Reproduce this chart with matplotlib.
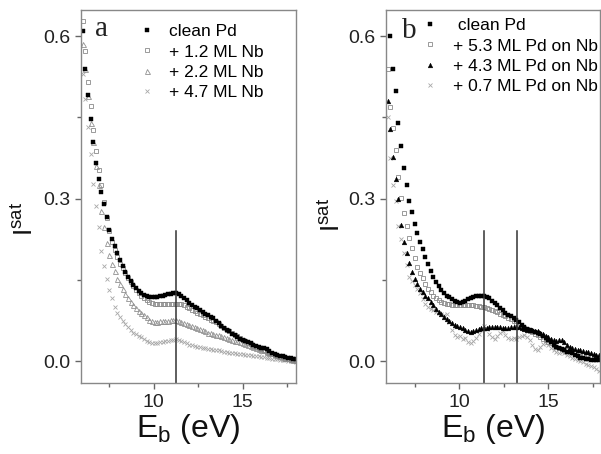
import numpy as np
import matplotlib
matplotlib.use("Agg")
import matplotlib.pyplot as plt

plt.rcParams['font.family'] = ['Liberation Sans', 'DejaVu Sans']
plt.rcParams['mathtext.fontset'] = 'custom'
plt.rcParams['mathtext.rm'] = 'Liberation Sans'

# Binding energy grid (eV)
E = [6.0, 6.15, 6.3, 6.45, 6.6, 6.75, 6.9, 7.05, 7.2, 7.35, 7.5, 7.65, 7.8, 7.95,
     8.1, 8.25, 8.4, 8.55, 8.7, 8.85, 9.0, 9.15, 9.3, 9.45, 9.6, 9.75, 9.9, 10.05,
     10.2, 10.35, 10.5, 10.65, 10.8, 10.95, 11.1, 11.25, 11.4, 11.55, 11.7, 11.85,
     12.0, 12.15, 12.3, 12.45, 12.6, 12.75, 12.9, 13.05, 13.2, 13.35, 13.5, 13.65,
     13.8, 13.95, 14.1, 14.25, 14.4, 14.55, 14.7, 14.85, 15.0, 15.15, 15.3, 15.45,
     15.6, 15.75, 15.9, 16.05, 16.2, 16.35, 16.5, 16.65, 16.8, 16.95, 17.1, 17.25,
     17.4, 17.55, 17.7, 17.85, 18.0]

# Panel a
a_clean_pd = [0.61, 0.54, 0.492, 0.447, 0.405, 0.366, 0.337, 0.313, 0.29, 0.266, 0.243, 0.226,
              0.213, 0.2, 0.187, 0.176, 0.165, 0.156, 0.148, 0.141, 0.135, 0.13, 0.126, 0.122,
              0.12, 0.119, 0.118, 0.118, 0.119, 0.12, 0.121, 0.123, 0.124, 0.125, 0.126, 0.126,
              0.124, 0.121, 0.117, 0.113, 0.108, 0.104, 0.101, 0.098, 0.095, 0.091, 0.088, 0.085,
              0.082, 0.079, 0.075, 0.07, 0.066, 0.062, 0.058, 0.055, 0.051, 0.048, 0.045, 0.042,
              0.04, 0.037, 0.035, 0.033, 0.031, 0.029, 0.027, 0.025, 0.024, 0.022, 0.019, 0.016,
              0.013, 0.011, 0.01, 0.009, 0.008, 0.007, 0.006, 0.005, 0.005]
a_nb_1_2 = [0.628, 0.572, 0.515, 0.471, 0.427, 0.388, 0.352, 0.325, 0.294, 0.264, 0.24, 0.22,
            0.205, 0.192, 0.18, 0.172, 0.163, 0.154, 0.146, 0.139, 0.132, 0.126, 0.121, 0.117,
            0.113, 0.11, 0.107, 0.106, 0.105, 0.105, 0.105, 0.105, 0.105, 0.106, 0.106, 0.106,
            0.106, 0.105, 0.103, 0.1, 0.098, 0.095, 0.092, 0.09, 0.087, 0.085, 0.082, 0.08,
            0.077, 0.075, 0.072, 0.068, 0.065, 0.062, 0.058, 0.055, 0.052, 0.049, 0.046, 0.043,
            0.04, 0.037, 0.034, 0.032, 0.029, 0.027, 0.024, 0.022, 0.02, 0.018, 0.016, 0.014,
            0.012, 0.01, 0.008, 0.007, 0.005, 0.004, 0.003, 0.002, 0.001]
a_nb_2_2 = [0.585, 0.54, 0.49, 0.44, 0.405, 0.36, 0.325, 0.278, 0.248, 0.218, 0.196, 0.18,
            0.166, 0.152, 0.142, 0.133, 0.125, 0.117, 0.11, 0.103, 0.098, 0.093, 0.089, 0.085,
            0.081, 0.077, 0.074, 0.072, 0.073, 0.074, 0.074, 0.075, 0.075, 0.076, 0.076, 0.076,
            0.075, 0.073, 0.071, 0.069, 0.067, 0.065, 0.063, 0.061, 0.059, 0.057, 0.055, 0.053,
            0.052, 0.05, 0.049, 0.048, 0.047, 0.045, 0.043, 0.042, 0.04, 0.038, 0.037, 0.035,
            0.033, 0.032, 0.03, 0.028, 0.026, 0.025, 0.023, 0.021, 0.02, 0.018, 0.016, 0.015,
            0.013, 0.012, 0.01, 0.009, 0.007, 0.006, 0.005, 0.003, 0.002]
a_nb_4_7 = [0.53, 0.483, 0.433, 0.382, 0.327, 0.286, 0.247, 0.203, 0.176, 0.151, 0.131, 0.116,
            0.101, 0.09, 0.082, 0.075, 0.069, 0.063, 0.058, 0.053, 0.05, 0.047, 0.044, 0.041,
            0.038, 0.036, 0.034, 0.033, 0.034, 0.035, 0.036, 0.037, 0.038, 0.039, 0.04, 0.041,
            0.039, 0.037, 0.035, 0.033, 0.031, 0.03, 0.029, 0.027, 0.026, 0.025, 0.024, 0.023,
            0.022, 0.021, 0.021, 0.02, 0.019, 0.018, 0.017, 0.016, 0.015, 0.015, 0.014, 0.014,
            0.013, 0.012, 0.012, 0.011, 0.01, 0.01, 0.009, 0.008, 0.008, 0.007, 0.006, 0.005,
            0.005, 0.004, 0.003, 0.003, 0.002, 0.001, 0.001, 0.0, -0.001]

# Panel b
b_clean_pd = [0.655, 0.6, 0.54, 0.498, 0.44, 0.397, 0.357, 0.325, 0.295, 0.276, 0.254, 0.236,
              0.22, 0.207, 0.192, 0.179, 0.167, 0.156, 0.146, 0.138, 0.131, 0.126, 0.121, 0.118,
              0.115, 0.112, 0.11, 0.108, 0.109, 0.112, 0.115, 0.117, 0.119, 0.12, 0.121, 0.121,
              0.121, 0.119, 0.116, 0.112, 0.108, 0.104, 0.099, 0.094, 0.09, 0.086, 0.083, 0.08,
              0.077, 0.072, 0.067, 0.063, 0.059, 0.057, 0.055, 0.054, 0.052, 0.05, 0.047, 0.043,
              0.039, 0.035, 0.031, 0.027, 0.024, 0.022, 0.02, 0.018, 0.017, 0.015, 0.012, 0.01,
              0.007, 0.006, 0.005, 0.004, 0.003, 0.003, 0.002, 0.002, 0.002]
b_pd_5_3 = [0.54, 0.47, 0.43, 0.39, 0.34, 0.302, 0.274, 0.25, 0.228, 0.209, 0.191, 0.174,
            0.162, 0.153, 0.143, 0.134, 0.127, 0.121, 0.117, 0.113, 0.11, 0.108, 0.106, 0.105,
            0.104, 0.103, 0.103, 0.103, 0.103, 0.103, 0.103, 0.103, 0.103, 0.102, 0.102, 0.101,
            0.1, 0.098, 0.097, 0.095, 0.093, 0.091, 0.088, 0.086, 0.083, 0.08, 0.078, 0.075,
            0.071, 0.067, 0.063, 0.061, 0.059, 0.056, 0.054, 0.051, 0.048, 0.045, 0.042, 0.039,
            0.036, 0.033, 0.03, 0.027, 0.024, 0.022, 0.021, 0.02, 0.019, 0.018, 0.017, 0.015,
            0.014, 0.013, 0.012, 0.011, 0.01, 0.009, 0.008, 0.008, 0.007]
b_pd_4_3 = [0.48, 0.428, 0.377, 0.336, 0.3, 0.252, 0.22, 0.199, 0.181, 0.164, 0.151, 0.142,
            0.133, 0.127, 0.121, 0.116, 0.109, 0.103, 0.097, 0.091, 0.087, 0.082, 0.078, 0.074,
            0.07, 0.067, 0.065, 0.063, 0.061, 0.058, 0.055, 0.054, 0.056, 0.058, 0.06, 0.061,
            0.062, 0.062, 0.063, 0.063, 0.063, 0.063, 0.063, 0.062, 0.062, 0.062, 0.063, 0.064,
            0.064, 0.063, 0.061, 0.059, 0.058, 0.058, 0.057, 0.056, 0.055, 0.053, 0.05, 0.047,
            0.044, 0.041, 0.039, 0.038, 0.039, 0.039, 0.036, 0.031, 0.027, 0.024, 0.022, 0.021,
            0.02, 0.019, 0.018, 0.017, 0.015, 0.013, 0.012, 0.011, 0.011]
b_pd_0_7 = [0.45, 0.375, 0.325, 0.296, 0.25, 0.225, 0.2, 0.178, 0.156, 0.149, 0.14, 0.133,
            0.126, 0.115, 0.106, 0.1, 0.097, 0.094, 0.091, 0.089, 0.087, 0.086, 0.087, 0.072,
            0.058, 0.048, 0.044, 0.046, 0.041, 0.043, 0.036, 0.034, 0.038, 0.043, 0.05, 0.058,
            0.066, 0.06, 0.05, 0.044, 0.042, 0.047, 0.053, 0.055, 0.049, 0.043, 0.041, 0.043,
            0.042, 0.044, 0.047, 0.049, 0.045, 0.04, 0.03, 0.022, 0.021, 0.026, 0.032, 0.034,
            0.03, 0.025, 0.021, 0.017, 0.016, 0.017, 0.015, 0.012, 0.009, 0.006, 0.004, 0.002,
            0.0, -0.002, -0.005, -0.007, -0.009, -0.011, -0.014, -0.017, -0.02]

labels_a = ["clean Pd", "+ 1.2 ML Nb", "+ 2.2 ML Nb", "+ 4.7 ML Nb"]
labels_b = [" clean Pd", "+ 5.3 ML Pd on Nb", "+ 4.3 ML Pd on Nb", "+ 0.7 ML Pd on Nb"]
vlines_a = [11.25]
vlines_b = [11.4, 13.25]
vline_top = 0.24

W, H = 601, 454
fig = plt.figure(figsize=(W / 100, H / 100), dpi=100)

def px_axes(l, t, r, b):
    return fig.add_axes([l / W, 1 - b / H, (r - l) / W, (b - t) / H])

axa = px_axes(81, 10, 296, 383)
axb = px_axes(386, 10, 600, 383)

def style(ax, xmax):
    ax.set_xlim(5.9, xmax)
    ax.set_ylim(-0.040, 0.648)
    ax.set_xticks([10, 15])
    ax.set_xticks([7.5, 12.5, 17.5], minor=True)
    ax.set_yticks([0.0, 0.3, 0.6])
    ax.set_yticks([0.15, 0.45], minor=True)
    ax.set_yticklabels(["0.0", "0.3", "0.6"])
    for s in ax.spines.values():
        s.set_color('#888888')
        s.set_linewidth(1.0)
    ax.tick_params(which='both', direction='out', top=False, right=False,
                   color='#666666', labelsize=14, labelcolor='#222222')
    ax.tick_params(which='major', length=4, width=1, pad=4)
    ax.tick_params(which='minor', length=3, width=1)
    ax.set_xlabel(r'$\mathregular{E_b}$ (eV)', fontsize=23, color='#111111', labelpad=1)

style(axa, 18.0)
style(axb, 17.9)

leg_kw = dict(loc='upper left', frameon=False, fontsize=12.5, handlelength=0.8,
              handletextpad=0.9, labelspacing=0.29, borderpad=0, borderaxespad=0)

# Panel a series
h3 = axa.plot(E, a_nb_4_7, ls='none', marker='x', ms=3.2, mew=0.6, color='#a8a8a8')[0]
h2 = axa.plot(E, a_nb_2_2, ls='none', marker='^', ms=3.6, mew=0.6, mfc='none', color='#909090')[0]
h1 = axa.plot(E, a_nb_1_2, ls='none', marker='s', ms=3.2, mew=0.6, mfc='none', color='#8a8a8a')[0]
h0 = axa.plot(E, a_clean_pd, ls='none', marker='s', ms=2.6, mew=0.3, color='black')[0]
for x in vlines_a:
    axa.plot([x, x], [-0.05, vline_top], color='#333333', lw=1.1)
axa.legend([h0, h1, h2, h3], labels_a, bbox_to_anchor=(0.274, 0.962), **leg_kw)
axa.text(0.065, 0.93, 'a', transform=axa.transAxes, fontsize=21,
         family='Liberation Serif', color='#222222', va='baseline', ha='left')

# Panel b series
g3 = axb.plot(E, b_pd_0_7, ls='none', marker='x', ms=3.2, mew=0.6, color='#a8a8a8')[0]
g1 = axb.plot(E, b_pd_5_3, ls='none', marker='s', ms=3.2, mew=0.6, mfc='none', color='#8a8a8a')[0]
g2 = axb.plot(E, b_pd_4_3, ls='none', marker='^', ms=3.4, mew=0.3, color='black')[0]
g0 = axb.plot(E, b_clean_pd, ls='none', marker='s', ms=2.8, mew=0.3, color='black')[0]
for x in vlines_b:
    axb.plot([x, x], [-0.05, vline_top], color='#333333', lw=1.1)
axb.legend([g0, g1, g2, g3], labels_b, bbox_to_anchor=(0.173, 0.978), **leg_kw)
axb.text(0.075, 0.925, 'b', transform=axb.transAxes, fontsize=21,
         family='Liberation Serif', color='#222222', va='baseline', ha='left')

# y labels
fig.text(24.5 / W, 1 - 236 / H, r'$\mathregular{I^{sat}}$', rotation=90, fontsize=19,
         ha='center', va='bottom', color='#111111')
fig.text(332 / W, 1 - 232 / H, r'$\mathregular{I^{sat}}$', rotation=90, fontsize=19,
         ha='center', va='bottom', color='#111111')

fig.savefig('out.png', dpi=100)
